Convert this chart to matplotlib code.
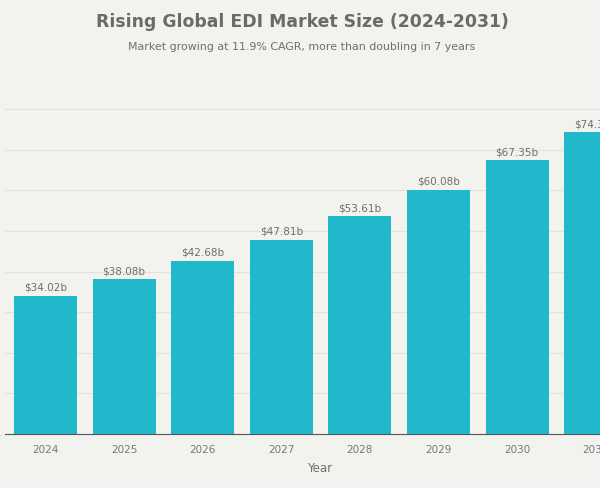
import matplotlib
matplotlib.use("Agg")
import matplotlib.pyplot as plt

years = ["2024", "2025", "2026", "2027", "2028", "2029", "2030", "2031"]
values = [34.02, 38.08, 42.68, 47.81, 53.61, 60.08, 67.35, 74.35]
yticks = [0, 10, 20, 30, 40, 50, 60, 70, 80]
ytick_labels = ["$0b", "$10b", "$20b", "$30b", "$40b", "$50b", "$60b", "$70b", "$80b"]

bg = "#f2f2ee"
bar_color = "#22b8cc"
text_gray = "#6e6e6e"

fig = plt.figure(figsize=(6.0, 4.89), dpi=100, facecolor=bg)
W, H = 600, 489
left_px, right_px = 5, 635
bottom_px, top_px = 435, 102
ax = fig.add_axes([left_px / W, 1 - bottom_px / H, (right_px - left_px) / W, (bottom_px - top_px) / H])
ax.set_facecolor(bg)

x = list(range(len(years)))
bars = ax.bar(x, values, width=0.8, color=bar_color, zorder=3)
for xi, v in zip(x, values):
    ax.text(xi, v + 1.0, f"${v:.2f}b", ha="center", va="bottom", fontsize=7.5, color=text_gray, zorder=4)

ax.set_xlim(-0.515, 7.5)
ax.set_ylim(0, 82)
ax.set_yticks(yticks)
ax.set_yticklabels(ytick_labels)
ax.set_xticks(x)
ax.set_xticklabels(years)
ax.tick_params(axis="both", length=0, labelsize=7.5, labelcolor="#777777")
ax.tick_params(axis="x", pad=7)
ax.tick_params(axis="y", pad=3)
ax.grid(axis="y", color="#e2e2dd", linewidth=0.8, zorder=0)
for s in ["top", "right", "left"]:
    ax.spines[s].set_visible(False)
ax.spines["bottom"].set_color("#555555")
ax.spines["bottom"].set_linewidth(0.8)
ax.spines["bottom"].set_zorder(5)

fig.text(302 / W, 1 - 22 / H, "Rising Global EDI Market Size (2024-2031)", ha="center", va="center",
         fontsize=12.4, fontweight="bold", color="#6a6a6a")
fig.text(302 / W, 1 - 47 / H, "Market growing at 11.9% CAGR, more than doubling in 7 years", ha="center",
         va="center", fontsize=7.9, color=text_gray)
fig.text(320 / W, 1 - 469 / H, "Year", ha="center", va="center", fontsize=8.5, color=text_gray)

fig.savefig("out.png", dpi=100, facecolor=bg)
